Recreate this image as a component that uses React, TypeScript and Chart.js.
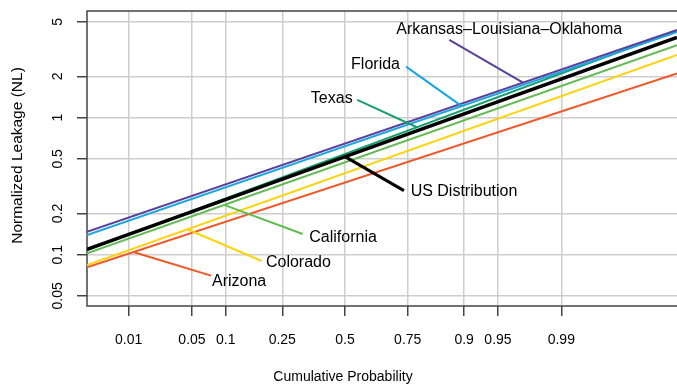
import React, { useEffect, useRef } from "react";
import { Chart, registerables } from "chart.js";

Chart.register(...registerables);

// x axis: normal quantile (z-score) of the cumulative probability
const xEdges = [-2.774, 3.57];
const xTickZ = [-2.326, -1.645, -1.2816, -0.6745, 0, 0.6745, 1.2816, 1.645, 2.326];
const xTickLabels = ["0.01", "0.05", "0.1", "0.25", "0.5", "0.75", "0.9", "0.95", "0.99"];

// y axis: log scale
const yRange = [0.0422, 6.0];
const yTicks = [0.05, 0.1, 0.2, 0.5, 1, 2, 5];
const yTickLabels = ["0.05", "0.1", "0.2", "0.5", "1", "2", "5"];

// series: value at left edge and right edge of the plot
const seriesNames = [
  "Arkansas–Louisiana–Oklahoma",
  "Florida",
  "Texas",
  "US Distribution",
  "California",
  "Colorado",
  "Arizona",
];
const arkansas = [0.147, 4.36];
const florida = [0.139, 4.22];
const texas = [0.108, 4.33];
const usDist = [0.1095, 3.85];
const california = [0.1024, 3.38];
const colorado = [0.0841, 2.87];
const arizona = [0.0809, 2.1];
const seriesValues = [arkansas, florida, texas, usDist, california, colorado, arizona];

const seriesColors = ["#5b3f9c", "#18a6e2", "#13a070", "#000000", "#62bb50", "#fdd20e", "#f25526"];
const seriesWidths = [2, 2, 2, 3.5, 2, 2, 2];
const seriesOrder = [2, 3, 4, 0, 5, 6, 7];

// label placement: where leader touches the line (z), leader far end (z, value), text offsets
const labelAnchorZ = [1.914, 1.255, 0.774, 0, -1.301, -1.696, -2.276];
const labelEndZ = [1.1215, 0.656, 0.132, 0.634, -0.455, -0.896, -1.441];
const labelEndV = [3.69, 2.357, 1.346, 0.2932, 0.1416, 0.0899, 0.0703];
const labelAlign = ["left", "right", "right", "left", "left", "left", "left"];
const labelDx = [-53, -6, -4.6, 6.7, 6.6, 4.3, 1];
const labelDy = [-10, -1.7, -1, 1, 3.3, 1.7, 6.3];

const FONT = "'Liberation Sans', Arial, Helvetica, sans-serif";

function valueOnLine(vals: number[], z: number) {
  const t = (z - xEdges[0]) / (xEdges[1] - xEdges[0]);
  const l0 = Math.log10(vals[0]);
  const l1 = Math.log10(vals[1]);
  return Math.pow(10, l0 + (l1 - l0) * t);
}

const decorPlugin = {
  id: "decor",
  beforeDatasetsDraw(chart: any) {
    const { ctx, chartArea } = chart;
    const { left, right, top, bottom } = chartArea;
    ctx.save();
    ctx.strokeStyle = "#444";
    ctx.lineWidth = 1.5;
    ctx.beginPath();
    ctx.moveTo(right + 2, top);
    ctx.lineTo(left, top);
    ctx.lineTo(left, bottom);
    ctx.lineTo(right + 2, bottom);
    ctx.stroke();
    ctx.restore();
  },
  afterDatasetsDraw(chart: any) {
    const { ctx, chartArea, scales } = chart;
    const xs = scales.x;
    const ys = scales.y;
    ctx.save();
    // y tick labels (rotated)
    ctx.fillStyle = "#000";
    ctx.font = `14px ${FONT}`;
    ctx.textAlign = "center";
    ctx.textBaseline = "middle";
    yTicks.forEach((v, i) => {
      const py = ys.getPixelForValue(v);
      ctx.save();
      ctx.translate(58, py);
      ctx.rotate(-Math.PI / 2);
      ctx.fillText(yTickLabels[i], 0, 0);
      ctx.restore();
    });
    // x title
    ctx.fillText("Cumulative Probability", xs.getPixelForValue(0) - 2, 377);
    // y title
    ctx.save();
    ctx.font = `15.5px ${FONT}`;
    ctx.translate(18, (chartArea.top + chartArea.bottom) / 2 - 3);
    ctx.rotate(-Math.PI / 2);
    ctx.fillText("Normalized Leakage (NL)", 0, 0);
    ctx.restore();

    // annotations
    ctx.font = `16px ${FONT}`;
    ctx.textBaseline = "middle";
    seriesNames.forEach((name, i) => {
      const az = labelAnchorZ[i];
      const ax = xs.getPixelForValue(az);
      const ay = ys.getPixelForValue(valueOnLine(seriesValues[i], az));
      const ex = xs.getPixelForValue(labelEndZ[i]);
      const ey = ys.getPixelForValue(labelEndV[i]);
      ctx.strokeStyle = seriesColors[i];
      ctx.lineWidth = seriesWidths[i] === 2 ? 2 : 3;
      ctx.beginPath();
      ctx.moveTo(ax, ay);
      ctx.lineTo(ex, ey);
      ctx.stroke();
      ctx.fillStyle = "#000";
      ctx.textAlign = labelAlign[i] as CanvasTextAlign;
      ctx.fillText(name, ex + labelDx[i], ey + labelDy[i]);
    });
    ctx.restore();
  },
};

export default function App() {
  const ref = useRef<HTMLCanvasElement | null>(null);
  useEffect(() => {
    document.body.style.margin = "0";
    const canvas = ref.current;
    if (!canvas) return;
    const datasets = seriesNames.map((name, i) => ({
      label: name,
      data: xEdges.map((z, j) => ({ x: z, y: seriesValues[i][j] })),
      borderColor: seriesColors[i],
      backgroundColor: seriesColors[i],
      borderWidth: seriesWidths[i],
      pointRadius: 0,
      fill: false,
      tension: 0,
      order: seriesOrder[i],
      borderCapStyle: "butt" as const,
    }));
    const chart = new Chart(canvas, {
      type: "line",
      data: { datasets },
      plugins: [decorPlugin],
      options: {
        animation: false,
        responsive: false,
        devicePixelRatio: 1,
        layout: { padding: { top: 11, right: 0, left: 0, bottom: 0 } },
        plugins: { legend: { display: false }, tooltip: { enabled: false } },
        scales: {
          x: {
            type: "linear",
            min: xEdges[0],
            max: xEdges[1],
            afterBuildTicks: (s: any) => {
              s.ticks = xTickZ.map((v) => ({ value: v }));
            },
            afterFit: (s: any) => {
              s.height = 78;
            },
            ticks: {
              autoSkip: false,
              maxRotation: 0,
              minRotation: 0,
              padding: 16,
              color: "#000",
              font: { family: FONT, size: 14 },
              callback: (_v: any, i: number) => xTickLabels[i],
            },
            grid: {
              color: "#cdcdcd",
              lineWidth: 1.5,
              tickColor: "#444",
              tickLength: 10,
              drawTicks: true,
            },
            border: { display: false },
          },
          y: {
            type: "logarithmic",
            min: yRange[0],
            max: yRange[1],
            afterBuildTicks: (s: any) => {
              s.ticks = yTicks.map((v) => ({ value: v }));
            },
            afterFit: (s: any) => {
              s.width = 87;
            },
            ticks: { display: false },
            grid: {
              color: "#cdcdcd",
              lineWidth: 1.5,
              tickColor: "#444",
              tickLength: 10,
              drawTicks: true,
            },
            border: { display: false },
          },
        },
      },
    });
    return () => chart.destroy();
  }, []);
  return (
    <canvas ref={ref} width={677} height={384} style={{ display: "block", width: 677, height: 384 }} />
  );
}
